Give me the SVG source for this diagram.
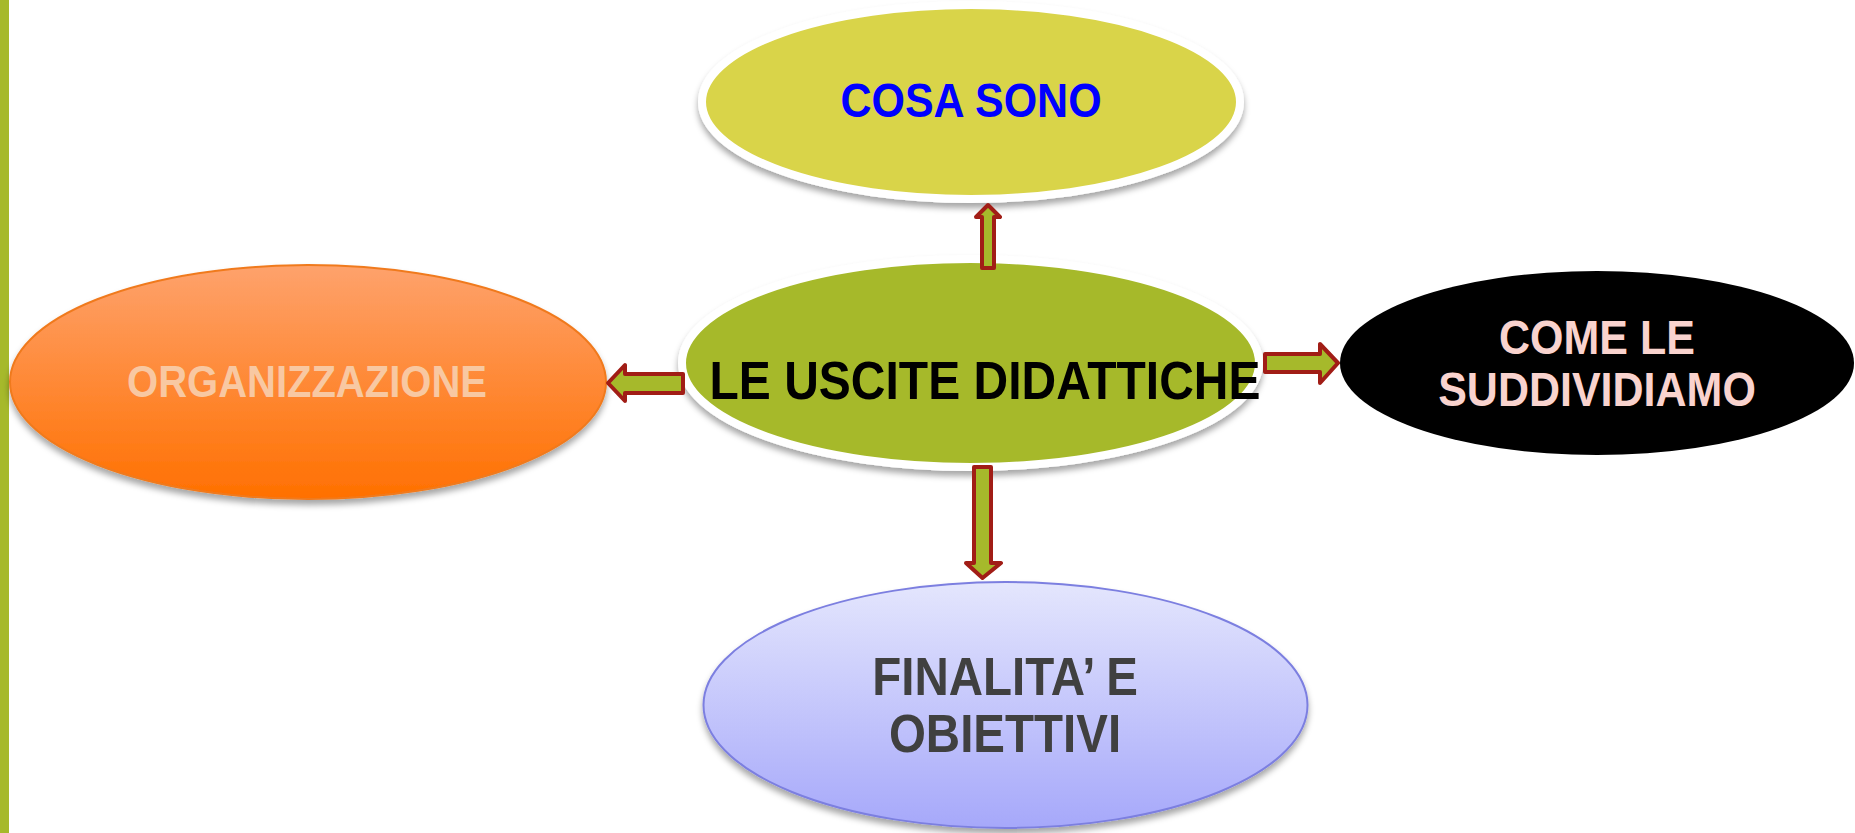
<svg xmlns="http://www.w3.org/2000/svg" width="1855" height="833" viewBox="0 0 1855 833">
<defs>
<filter id="sh" x="-10%" y="-10%" width="120%" height="130%">
<feDropShadow dx="0" dy="5" stdDeviation="3" flood-color="#000" flood-opacity="0.35"/>
</filter>
<linearGradient id="gOrange" x1="0" y1="0" x2="0" y2="1">
<stop offset="0" stop-color="#fea26c"/>
<stop offset="1" stop-color="#ff7000"/>
</linearGradient>
<linearGradient id="gPurple" x1="0" y1="0" x2="0" y2="1">
<stop offset="0" stop-color="#e4e6fd"/>
<stop offset="1" stop-color="#a6a8fa"/>
</linearGradient>
<style>
.t{font-family:"Liberation Sans",Arial,sans-serif;font-weight:bold;text-anchor:middle}
.arrow{fill:#a6b92b;stroke:#a11d16;stroke-width:4;stroke-linejoin:round}
</style>
</defs>
<rect x="0" y="0" width="1855" height="833" fill="#ffffff"/>
<rect x="0" y="0" width="9" height="833" fill="#a6b92b"/>

<g id="node-cosa-sono">
<ellipse cx="971" cy="102" rx="269" ry="97" fill="#d9d44a" stroke="#ffffff" stroke-width="8" filter="url(#sh)"/>
<text class="t" transform="translate(971,117) scale(1,1.13)" font-size="43" fill="#0000ff">COSA SONO</text>
</g>

<g id="node-organizzazione">
<ellipse cx="308" cy="382" rx="298" ry="117" fill="url(#gOrange)" stroke="#f07a1e" stroke-width="2" filter="url(#sh)"/>
<text class="t" transform="translate(307,397) scale(1,1.12)" font-size="40" fill="#f8c8a2">ORGANIZZAZIONE</text>
</g>

<g id="node-come">
<ellipse cx="1597" cy="363" rx="257" ry="92" fill="#000000"/>
<text class="t" transform="translate(1597,354) scale(1,1.12)" font-size="43" fill="#f9d3ce">COME LE</text>
<text class="t" transform="translate(1597,406) scale(1,1.12)" font-size="43" fill="#f9d3ce">SUDDIVIDIAMO</text>
</g>

<g id="node-finalita">
<ellipse cx="1005.5" cy="705" rx="302" ry="123" fill="url(#gPurple)" stroke="#7c7fe0" stroke-width="2" filter="url(#sh)"/>
<text class="t" transform="translate(1005,695) scale(1,1.12)" font-size="47.5" fill="#404040">FINALITA’ E</text>
<text class="t" transform="translate(1005,752) scale(1,1.12)" font-size="47.5" fill="#404040">OBIETTIVI</text>
</g>

<g id="node-center">
<ellipse cx="970.5" cy="363" rx="288.5" ry="104" fill="#a6b92b" stroke="#ffffff" stroke-width="8" filter="url(#sh)"/>
</g>

<g id="connectors">
<path class="arrow" d="M988,205 L1000,217 L994,217 L994,268 L982,268 L982,217 L976,217 Z"/>
<path class="arrow" d="M982.5,578 L1001,563 L991,563 L991,467 L974,467 L974,563 L966,563 Z"/>
<path class="arrow" d="M608,383 L625,365 L625,374 L683,374 L683,393 L625,393 L625,401 Z"/>
<path class="arrow" d="M1338,363 L1320,344 L1320,354 L1265,354 L1265,372 L1320,372 L1320,383 Z"/>
</g>

<g id="center-label">
<text class="t" transform="translate(985,399) scale(1,1.12)" font-size="48" fill="#000000">LE USCITE DIDATTICHE</text>
</g>
</svg>
